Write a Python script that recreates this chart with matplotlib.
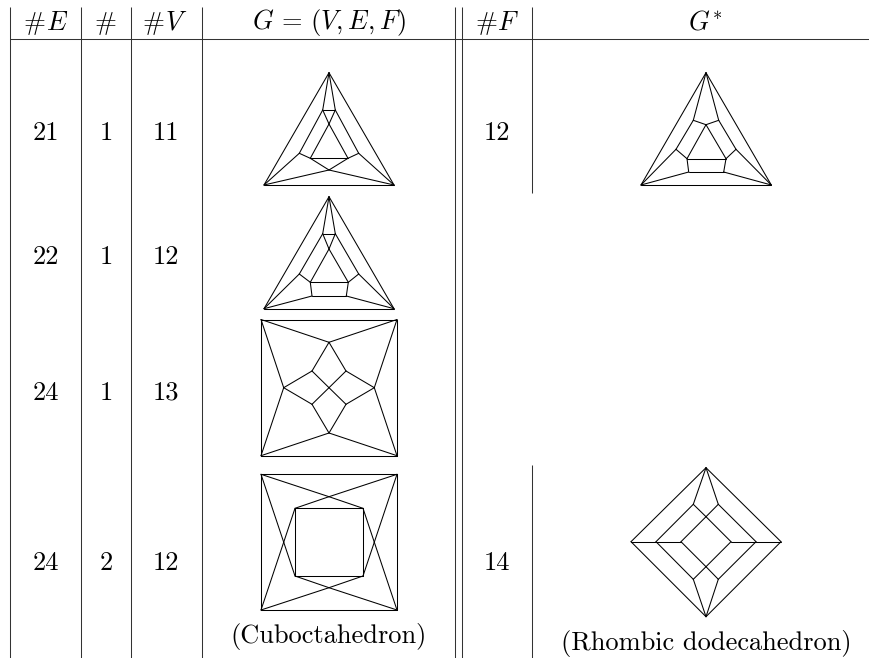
import matplotlib
matplotlib.use("Agg")
import matplotlib.pyplot as plt

plt.rcParams['mathtext.fontset'] = 'cm'

# ====================== TABLE DATA ======================
col_edges = ['21', '22', '24', '24']
col_count = ['1', '1', '1', '2']
col_verts = ['11', '12', '13', '12']
col_faces = ['12', '14']
count_letters = [r'$E$', '', r'$V$', r'$F$']
captions = ['(Cuboctahedron)', '(Rhombic dodecahedron)']

# ====================== GRAPHS (node positions in page pixels) ======================
g1_nodes = {
    'top': (329, 72.7), 'bl': (264, 185), 'br': (394, 185),
    'a': (322.7, 110), 'b': (335.3, 110), 'm': (329, 124),
    'p': (299.3, 153.3), 'q': (358.7, 153.3),
    'r': (310.3, 158.3), 's': (348, 158.3), 'n': (329, 170),
}
g1_edges = ['top bl', 'top br', 'bl br', 'top a', 'top b', 'a b', 'a m', 'b m',
            'a p', 'b q', 'm r', 'm s', 'r s', 'p bl', 'q br', 'p r', 'r n',
            'q s', 's n', 'n bl', 'n br']

g2_nodes = {
    'top': (329, 196.7), 'bl': (264, 308.7), 'br': (394, 308.7),
    'a': (322.7, 233.7), 'b': (335.3, 233.7), 'm': (329, 249),
    'p': (299.3, 274), 'q': (358.7, 274),
    'r': (310.3, 282.3), 's': (348.3, 282.3),
    't': (312, 296), 'u': (346.3, 296),
}
g2_edges = ['top bl', 'top br', 'bl br', 'top a', 'top b', 'a b', 'a m', 'b m',
            'a p', 'b q', 'm r', 'm s', 'r s', 'p bl', 'q br', 'p r', 'q s',
            'r t', 's u', 't u', 't bl', 'u br']

g3_nodes = {
    'tl': (261, 319.5), 'tr': (397, 319.5), 'bl': (261, 455.7), 'br': (397, 455.7),
    'N': (329, 342.3), 'W': (283.7, 387.7), 'E': (374.3, 387.7), 'S': (329, 433),
    'ul': (312, 371), 'ur': (346, 371), 'll': (312, 404.3), 'lr': (346, 404.3),
    'c': (329, 387.7),
}
g3_edges = ['tl tr', 'tr br', 'br bl', 'bl tl', 'tl N', 'tr N', 'tl W', 'bl W',
            'tr E', 'br E', 'bl S', 'br S', 'N ul', 'N ur', 'W ul', 'W ll',
            'E ur', 'E lr', 'S ll', 'S lr', 'c ul', 'c ur', 'c ll', 'c lr']

g4_nodes = {
    'tl': (261, 474.3), 'tr': (397, 474.3), 'bl': (261, 610), 'br': (397, 610),
    'ul': (295, 508.3), 'ur': (363, 508.3), 'll': (295, 576), 'lr': (363, 576),
    'x1': (329, 496.7), 'x2': (283.7, 542.2), 'x3': (374.3, 542.2), 'x4': (329, 587.7),
}
g4_edges = ['tl tr', 'tr br', 'br bl', 'bl tl', 'ul ur', 'ur lr', 'lr ll', 'll ul',
            'tl x1', 'x1 ur', 'tr x1', 'x1 ul', 'tl x2', 'x2 ll', 'bl x2', 'x2 ul',
            'tr x3', 'x3 lr', 'br x3', 'x3 ur', 'bl x4', 'x4 lr', 'br x4', 'x4 ll']

d1_nodes = {
    'top': (706, 72.7), 'bl': (641, 185), 'br': (771.3, 185),
    'a': (693.3, 120.3), 'b': (718.7, 120.3), 'm': (706, 124.7),
    'p': (676, 149.3), 'q': (736, 149.3),
    'r': (687, 158.7), 's': (726, 158.7),
    't': (688.7, 172), 'u': (723.7, 172),
}
d1_edges = ['top bl', 'top br', 'bl br', 'top a', 'top b', 'a m', 'b m', 'a p',
            'b q', 'p bl', 'q br', 'p r', 'q s', 'm r', 'm s', 'r s', 'r t',
            's u', 't u', 't bl', 'u br']

d2_nodes = {
    'T': (706, 467.7), 'L': (631, 541.7), 'R': (781, 541.7), 'B': (706, 616.7),
    'ml': (656, 541.7), 'mr': (756, 541.7),
    'a': (693.3, 504.3), 'b': (718.3, 504.3), 'c': (693.3, 579.3), 'd': (718.3, 579.3),
    'il': (681, 541.7), 'ir': (731, 541.7), 'it': (706, 516.7), 'ib': (706, 566.7),
}
d2_edges = ['T L', 'T R', 'B L', 'B R', 'T a', 'T b', 'B c', 'B d', 'ml a', 'ml c',
            'mr b', 'mr d', 'L ml', 'ml il', 'R mr', 'mr ir', 'a it', 'b it',
            'c ib', 'd ib', 'il it', 'it ir', 'ir ib', 'ib il']

graphs = [(g1_nodes, g1_edges), (g2_nodes, g2_edges), (g3_nodes, g3_edges),
          (g4_nodes, g4_edges), (d1_nodes, d1_edges), (d2_nodes, d2_edges)]

# ====================== PAGE LAYOUT ======================
fig = plt.figure(figsize=(8.7, 6.58), dpi=100)
ax = fig.add_axes([0, 0, 1, 1])
ax.set_xlim(0, 870)
ax.set_ylim(658, 0)
ax.axis('off')

rule = dict(color='#333333', lw=0.75, solid_capstyle='butt')
for x in [10.5, 81.5, 131.5, 202.5, 455.5, 462.5]:
    ax.plot([x, x], [7, 658], **rule)
ax.plot([532.5, 532.5], [7, 193], **rule)
ax.plot([532.5, 532.5], [465, 658], **rule)
ax.plot([10, 870], [38.5, 38.5], **rule)

# ====================== TEXT ======================
text_size = 19
# mathtext has no hash sign, so it goes next to the letter as plain cmr10
hash_x = [46, 106, 165, 497.5]
for x, letter in zip(hash_x, count_letters):
    if letter:
        ax.text(x, 30, '#', ha='right', va='baseline', fontsize=text_size, family='cmr10')
        ax.text(x, 30, letter, ha='left', va='baseline', fontsize=text_size)
    else:
        ax.text(x, 30, '#', ha='center', va='baseline', fontsize=text_size, family='cmr10')
ax.text(329, 29, r'$G\,=\,(V, E, F)$', ha='center', va='baseline', fontsize=text_size)
ax.text(705, 29, r'$G^{*}$', ha='center', va='baseline', fontsize=text_size)

row_y = [140, 264, 399.5, 570]
for y, e, c, v in zip(row_y, col_edges, col_count, col_verts):
    ax.text(45.5, y, e, ha='center', va='baseline', fontsize=text_size, family='cmr10')
    ax.text(106, y, c, ha='center', va='baseline', fontsize=text_size, family='cmr10')
    ax.text(166, y, v, ha='center', va='baseline', fontsize=text_size, family='cmr10')
for y, f in zip([row_y[0], row_y[3]], col_faces):
    ax.text(497, y, f, ha='center', va='baseline', fontsize=text_size, family='cmr10')

ax.text(329, 643, captions[0], ha='center', va='baseline', fontsize=text_size, family='cmr10')
ax.text(706, 650, captions[1], ha='center', va='baseline', fontsize=text_size, family='cmr10')

# ====================== GRAPH EDGES ======================
for nodes, edges in graphs:
    for edge in edges:
        u, v = edge.split()
        ax.plot([nodes[u][0], nodes[v][0]], [nodes[u][1], nodes[v][1]],
                color='black', lw=0.75, solid_capstyle='round')

fig.savefig('out.png', dpi=100)
